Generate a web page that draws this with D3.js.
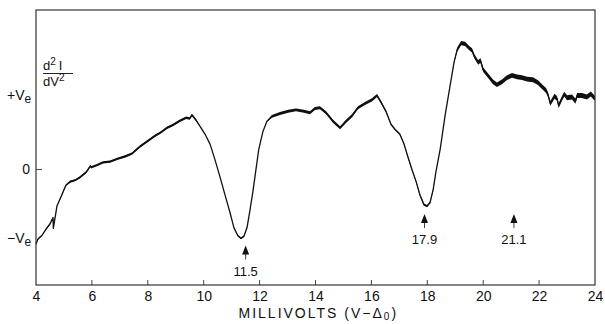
<!DOCTYPE html>
<html>
<head>
<meta charset="utf-8">
<script src="https://cdn.jsdelivr.net/npm/d3@7"></script>
<style>
  body { margin: 0; background: #fff; }
  text { font-family: "Liberation Sans", "DejaVu Sans", sans-serif; fill: #111; }
</style>
</head>
<body>
<div id="chart"></div>
<script>
// trace: millivolts (V - Delta0) and d2I/dV2 in units of Ve
var traceMv = [4.00, 4.07, 4.21, 4.36, 4.50, 4.61, 4.62, 4.75, 4.93, 5.07, 5.22, 5.40, 5.57, 5.79, 5.95, 5.97, 6.18,
  6.40, 6.65, 6.93, 7.18, 7.43, 7.72, 8.01, 8.26, 8.44, 8.69, 8.90, 9.15, 9.37, 9.50, 9.58, 9.72, 9.87,
  10.05, 10.23, 10.40, 10.58, 10.76, 10.94, 11.08, 11.22, 11.33, 11.44, 11.55, 11.65, 11.76, 11.87,
  11.97, 12.12, 12.26, 12.44, 12.73, 13.02, 13.30, 13.59, 13.80, 13.98, 14.16, 14.38, 14.63, 14.88,
  15.09, 15.31, 15.52, 15.77, 16.02, 16.20, 16.34, 16.52, 16.70, 16.84, 17.02, 17.17, 17.31, 17.45,
  17.60, 17.74, 17.88, 17.99, 18.10, 18.21, 18.31, 18.46, 18.64, 18.82, 18.96, 19.07, 19.21, 19.35,
  19.50, 19.60, 19.68, 19.82, 19.90, 20.00, 20.17, 20.35, 20.49, 20.67, 20.85, 21.03, 21.21, 21.39, 21.57, 21.78,
  21.96, 22.14, 22.25, 22.32, 22.40, 22.46, 22.55, 22.64, 22.70, 22.82, 22.90, 23.00, 23.18, 23.30, 23.36, 23.53, 23.71, 23.85, 24.00];
var traceVal = [-1.04, -0.97, -0.92, -0.83, -0.76, -0.67, -0.82, -0.51, -0.35, -0.22, -0.17, -0.15, -0.11, -0.04, 0.05, 0.03, 0.06,
  0.10, 0.11, 0.15, 0.18, 0.22, 0.32, 0.40, 0.47, 0.51, 0.58, 0.62, 0.68, 0.72, 0.71, 0.76, 0.69, 0.60,
  0.49, 0.35, 0.14, -0.10, -0.35, -0.60, -0.81, -0.92, -0.96, -0.93, -0.81, -0.58, -0.31, 0.00,
  0.28, 0.53, 0.67, 0.74, 0.78, 0.81, 0.83, 0.81, 0.79, 0.85, 0.86, 0.79, 0.67, 0.58,
  0.67, 0.75, 0.86, 0.92, 0.97, 1.03, 0.94, 0.81, 0.63, 0.56, 0.49, 0.35, 0.17, 0.00,
  -0.17, -0.36, -0.49, -0.51, -0.46, -0.28, -0.03, 0.28, 0.76, 1.18, 1.50, 1.67, 1.76, 1.75,
  1.69, 1.66, 1.58, 1.49, 1.52, 1.39, 1.31, 1.22, 1.18, 1.22, 1.28, 1.31, 1.29, 1.28, 1.26, 1.25,
  1.21, 1.14, 1.10, 1.04, 0.92, 0.96, 1.02, 0.99, 0.89, 0.99, 1.05, 1.00, 1.01, 0.95, 1.03, 1.03, 1.01, 1.05, 0.99];
// half thickness of the noisy pen trace (Ve units)
var bandMv = [4.0, 5.0, 5.2, 9.7, 9.9, 11.1, 11.25, 11.45, 11.6, 12.2, 12.35, 16.4, 16.6, 17.5, 17.7, 18.2, 18.35, 18.9, 19.05, 19.6, 20.0, 24.0];
var bandHalf = [0.008, 0.01, 0.015, 0.018, 0, 0, 0.012, 0.012, 0, 0, 0.02, 0.022, 0.012, 0.01, 0.016, 0.015, 0, 0, 0.028, 0.03, 0.032, 0.035];

var xTicks = [4, 6, 8, 10, 12, 14, 16, 18, 20, 22, 24];
var yTickVals = [1.04, 0, -0.95];
var yTickLabels = ["+V", "0", "\u2212V"];
var peakMv = [11.5, 17.9, 21.1];
var peakLabels = ["11.5", "17.9", "21.1"];
var peakTip = [-1.06, -0.62, -0.62];

var W = 605, H = 324;
var margin = { top: 10, right: 10, bottom: 39, left: 36 };
var width = W - margin.left - margin.right,
    height = H - margin.top - margin.bottom;

var svg = d3.select("#chart").append("svg")
    .attr("width", W).attr("height", H)
    .append("g")
    .attr("transform", "translate(" + margin.left + "," + margin.top + ")");

var x = d3.scaleLinear().domain([4, 24]).range([0, width]);
var y = d3.scaleLinear().domain([-1.61, 2.222]).range([height, 0]);

// trace thickness band
var halfAt = d3.scaleLinear().domain(bandMv).range(bandHalf).clamp(true);
var trace = traceMv.map(function (m, i) { return { m: m, v: traceVal[i] }; });

svg.append("path")
    .datum(trace)
    .attr("fill", "#111")
    .attr("d", d3.area()
        .x(function (d) { return x(d.m); })
        .y0(function (d) { return y(d.v - halfAt(d.m)); })
        .y1(function (d) { return y(d.v + halfAt(d.m)); }));

svg.append("path")
    .datum(trace)
    .attr("fill", "none")
    .attr("stroke", "#111")
    .attr("stroke-width", 1.3)
    .attr("stroke-linejoin", "round")
    .attr("d", d3.line()
        .x(function (d) { return x(d.m); })
        .y(function (d) { return y(d.v); }));

// frame
svg.append("rect")
    .attr("width", width).attr("height", height)
    .attr("fill", "none")
    .attr("stroke", "#333")
    .attr("stroke-width", 1.2);

// x axis: inward ticks, labels below
var xAxis = svg.append("g")
    .attr("transform", "translate(0," + height + ")")
    .call(d3.axisBottom(x).tickValues(xTicks).tickSize(0).tickPadding(6).tickFormat(d3.format("d")));
xAxis.select(".domain").remove();
xAxis.selectAll("text").style("font-size", "14px").attr("font-family", null);
svg.append("g").selectAll("line")
    .data(xTicks.slice(1, -1))
    .enter().append("line")
    .attr("x1", function (d) { return x(d); }).attr("x2", function (d) { return x(d); })
    .attr("y1", height).attr("y2", height - 5)
    .attr("stroke", "#444").attr("stroke-width", 1);

// y labels
svg.append("line")
    .attr("x1", 0).attr("x2", 6)
    .attr("y1", y(0)).attr("y2", y(0))
    .attr("stroke", "#444");
var yl = svg.append("g").selectAll("text")
    .data(yTickVals)
    .enter().append("text")
    .attr("x", function (d, i) { return i == 1 ? -6 : -29; })
    .attr("y", function (d) { return y(d) + 5; })
    .attr("text-anchor", function (d, i) { return i == 1 ? "end" : "start"; })
    .style("font-size", "14px");
yl.append("tspan").text(function (d, i) { return yTickLabels[i]; });
yl.filter(function (d, i) { return i != 1; })
    .append("tspan").attr("dy", 3).style("font-size", "12px").text("e");

// d2I/dV2 label
var lab = svg.append("g").attr("transform", "translate(7,0)");
var num = lab.append("text").attr("x", 0).attr("y", 60).style("font-size", "13px");
num.append("tspan").text("d");
num.append("tspan").attr("dy", -5).style("font-size", "10px").text("2");
num.append("tspan").attr("dy", 5).attr("dx", 3).text("I");
lab.append("line").attr("x1", 0).attr("x2", 30).attr("y1", 63.5).attr("y2", 63.5)
    .attr("stroke", "#222").attr("stroke-width", 1);
var den = lab.append("text").attr("x", 0).attr("y", 76).style("font-size", "13px");
den.append("tspan").text("dV");
den.append("tspan").attr("dy", -5).style("font-size", "10px").text("2");

// peak arrows
var peaks = svg.append("g").selectAll("g")
    .data(peakMv)
    .enter().append("g")
    .attr("transform", function (d, i) { return "translate(" + x(d) + "," + y(peakTip[i]) + ")"; });
peaks.append("path").attr("d", "M0,0 L-3.5,9 L3.5,9 Z").attr("fill", "#111");
peaks.append("line").attr("x1", 0).attr("x2", 0).attr("y1", 8).attr("y2", 14)
    .attr("stroke", "#111").attr("stroke-width", 0.8);
peaks.append("text")
    .attr("y", 30)
    .attr("text-anchor", "middle")
    .style("font-size", "13px")
    .text(function (d, i) { return peakLabels[i]; });

// x axis title
var xt = svg.append("text")
    .attr("x", x(14.1))
    .attr("y", height + 33)
    .attr("text-anchor", "middle")
    .style("font-size", "14px")
    .style("letter-spacing", "2px");
xt.append("tspan").text("MILLIVOLTS  (V\u2212\u0394");
xt.append("tspan").attr("dy", 2).style("font-size", "10px").text("0");
xt.append("tspan").attr("dy", -2).text(")");
</script>
</body>
</html>
